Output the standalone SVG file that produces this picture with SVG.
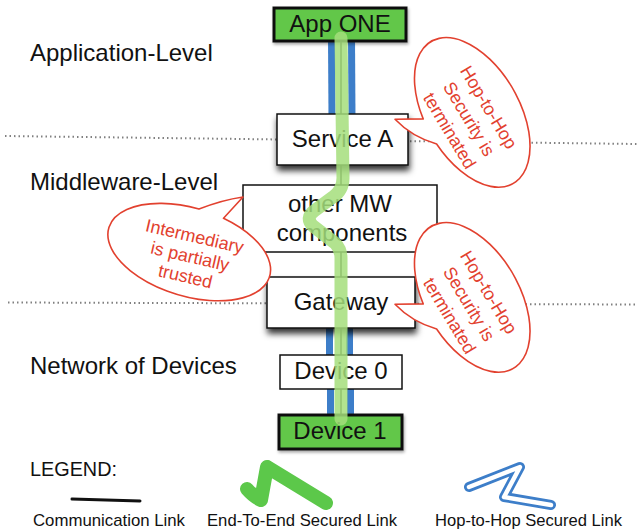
<svg xmlns="http://www.w3.org/2000/svg" width="637" height="532" viewBox="0 0 637 532">
<defs>
<style>
text{font-family:"Liberation Sans",Arial,Helvetica,sans-serif;fill:#111}
.lvl{font-size:24px}
.box{font-size:24px;text-anchor:middle}
.wb{fill:#fff;stroke:#111;stroke-width:1.5}
.gb{fill:#62c74a;stroke:#111;stroke-width:3}
.dot{stroke:#808080;stroke-width:2;stroke-dasharray:1.5 3;fill:none}
.hopo{stroke:#3d7ec9;stroke-width:27;fill:none}
.hopi{stroke:#fff;stroke-width:13;fill:none}
.e2e{stroke:#a5de7b;stroke-opacity:.85;stroke-width:13;fill:none;stroke-linecap:round;stroke-linejoin:round}
.comm{stroke:#444;stroke-width:1.8;fill:none}
.bub{fill:#fff;stroke:#e2412f;stroke-width:1.6;stroke-linejoin:round}
.bt{font-size:18px;fill:#e2412f;text-anchor:middle}
.lg{font-size:17px}
</style>
<filter id="sh" x="-20%" y="-30%" width="140%" height="180%">
<feDropShadow dx="1" dy="5" stdDeviation="3" flood-color="#000" flood-opacity="0.8"/>
</filter>
<filter id="sh2" x="-20%" y="-30%" width="140%" height="180%">
<feDropShadow dx="1" dy="2" stdDeviation="1.5" flood-color="#000" flood-opacity="0.35"/>
</filter>
</defs>
<rect width="637" height="532" fill="#fff"/>

<g id="levels">
<line class="dot" x1="5" y1="136" x2="637" y2="144"/>
<line class="dot" x1="8" y1="302.5" x2="637" y2="304.5"/>
<text class="lvl" x="30" y="61">Application-Level</text>
<text class="lvl" x="30" y="190">Middleware-Level</text>
<text class="lvl" x="30" y="374">Network of Devices</text>
</g>

<g id="connectors">
<path class="hopo" d="M341.5,38 L342,118"/>
<path class="hopi" d="M341.5,38 L342,118"/>
<path class="hopo" d="M339.5,325 L339.5,358"/>
<path class="hopi" d="M339.5,325 L339.5,358"/>
<path class="hopo" d="M340.5,386 L340.5,418"/>
<path class="hopi" d="M340.5,386 L340.5,418"/>
<path class="comm" d="M341,40 L341,420"/>
</g>

<g id="app-one">
<rect class="gb" x="274" y="8" width="132" height="33" filter="url(#sh2)"/>
<text class="box" x="340" y="32">App ONE</text>
</g>
<g id="service-a">
<rect class="wb" x="277" y="114" width="131" height="51" filter="url(#sh)"/>
<text class="box" x="342.5" y="147">Service A</text>
</g>
<g id="other-mw">
<rect class="wb" x="243" y="185" width="194" height="67"/>
<text class="box" x="340" y="212">other MW</text>
<text class="box" x="342" y="241">components</text>
</g>
<g id="gateway">
<rect class="wb" x="267" y="277" width="148" height="51" filter="url(#sh)"/>
<text class="box" x="341" y="310">Gateway</text>
</g>
<g id="device-0">
<rect class="wb" x="280" y="355" width="122" height="34"/>
<text class="box" x="341" y="379">Device 0</text>
</g>
<g id="device-1">
<rect class="gb" x="279" y="415" width="123" height="34" filter="url(#sh2)"/>
<text class="box" x="340" y="439">Device 1</text>
</g>

<g id="end-to-end-link">
<path class="e2e" d="M341,38 L343,178 Q343,190 333,197 L314,211 Q305,218 313,226 L335,243 Q341,249 341,258 L341,419"/>
</g>

<g id="callout-intermediary">
<path class="bub" d="M199,209.1 Q222,200 243,197 L223.5,218.3 A84 44 17 1 1 199,209.1 Z"/>
<g transform="translate(190,256.5) rotate(13)">
<text class="bt" x="0" y="-14.5">Intermediary</text>
<text class="bt" x="0" y="6">is partially</text>
<text class="bt" x="0" y="26.5">trusted</text>
</g>
</g>
<g id="callout-hop-app">
<path class="bub" d="M423.2,118.9 L395,119.3 Q412,137 436.6,144 A82 47 60 1 0 423.2,118.9 Z"/>
<g transform="translate(469,119) rotate(59)">
<text class="bt" x="0" y="-16.8">Hop-to-Hop</text>
<text class="bt" x="0" y="6">Security is</text>
<text class="bt" x="0" y="28.8">terminated</text>
</g>
</g>
<g id="callout-hop-gateway">
<path class="bub" transform="translate(0,185)" d="M423.2,118.9 L395,119.3 Q412,137 436.6,144 A82 47 60 1 0 423.2,118.9 Z"/>
<g transform="translate(469,304) rotate(59)">
<text class="bt" x="0" y="-16.8">Hop-to-Hop</text>
<text class="bt" x="0" y="6">Security is</text>
<text class="bt" x="0" y="28.8">terminated</text>
</g>
</g>

<g id="legend">
<text x="30" y="476" style="font-size:20px" textLength="87" lengthAdjust="spacingAndGlyphs">LEGEND:</text>
<path d="M72,499 L140,501" stroke="#111" stroke-width="3" stroke-linecap="round" fill="none"/>
<path d="M247,489 Q254,497 261,500 L267,467 L326,503" stroke="#5cc84a" stroke-width="14" stroke-linecap="round" stroke-linejoin="round" fill="none"/>
<path d="M469,487 L520,467 L504,497 L551,505" stroke="#3d7ec9" stroke-width="10" stroke-linecap="round" stroke-linejoin="round" fill="none"/>
<path d="M469,487 L520,467 L504,497 L551,505" stroke="#fff" stroke-width="4.5" stroke-linecap="round" stroke-linejoin="round" fill="none"/>
<text class="lg" x="33" y="526" textLength="152" lengthAdjust="spacingAndGlyphs">Communication Link</text>
<text class="lg" x="207" y="526" textLength="190" lengthAdjust="spacingAndGlyphs">End-To-End Secured Link</text>
<text class="lg" x="435" y="526" textLength="187" lengthAdjust="spacingAndGlyphs">Hop-to-Hop Secured Link</text>
</g>
</svg>
